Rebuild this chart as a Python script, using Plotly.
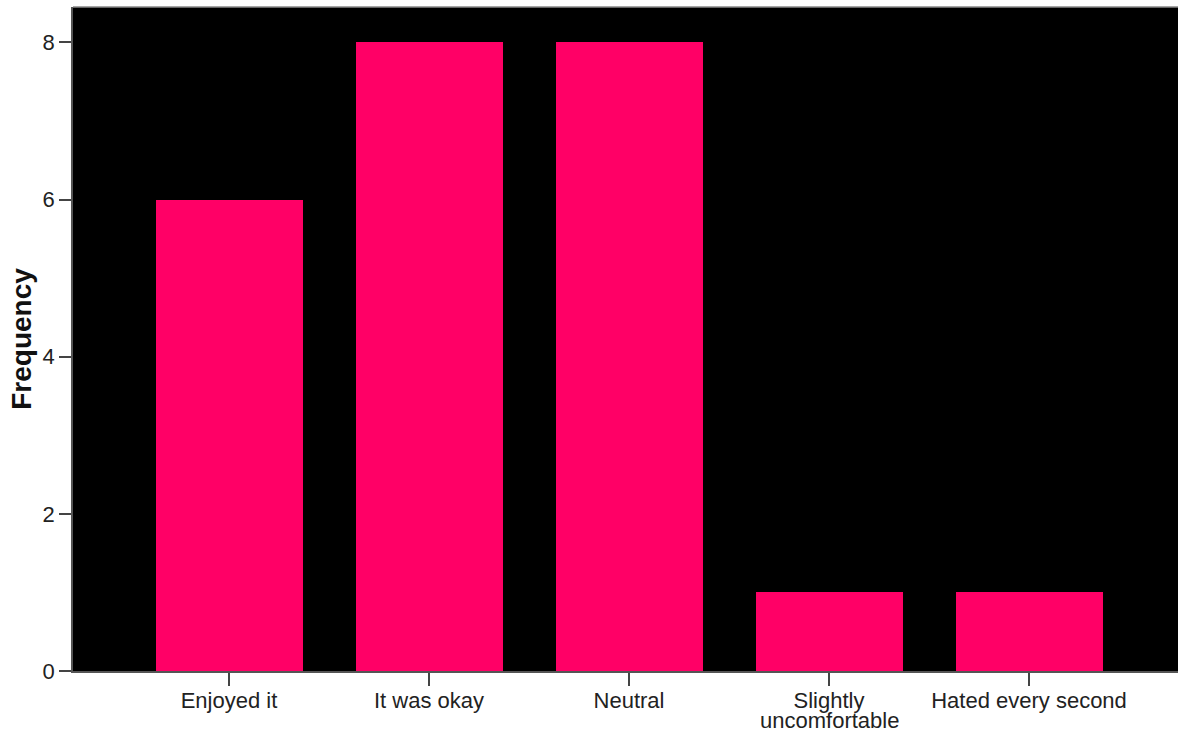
import plotly.graph_objects as go

categories = ["Enjoyed it", "It was okay", "Neutral", "Slightly", "Hated every second"]
category_second_lines = ["", "", "", "uncomfortable", ""]
frequency = [6, 8, 8, 1, 1]
y_ticks = [0, 2, 4, 6, 8]

fig = go.Figure(go.Bar(
    x=list(range(len(categories))),
    y=frequency,
    marker=dict(color="#FF0066", line=dict(width=0)),
    width=0.735,
))

fig.update_layout(
    width=1178, height=732,
    margin=dict(l=73, r=0, t=7, b=61, autoexpand=False),
    paper_bgcolor="white",
    plot_bgcolor="black",
    font=dict(family="Liberation Sans, Arial, sans-serif", size=22, color="#222"),
    showlegend=False,
    bargap=0,
)
fig.update_xaxes(
    range=[-0.78, 4.745],
    tickmode="array",
    tickvals=list(range(len(categories))),
    ticktext=categories,
    ticks="outside", ticklen=13, tickcolor="#444", tickwidth=1.5,
    ticklabelstandoff=-4,
    showline=True, linecolor="#555", linewidth=1.5,
    showgrid=False, zeroline=False, automargin=False,
    tickfont=dict(size=22),
)
fig.update_yaxes(
    range=[0, 8.45],
    tickmode="array", tickvals=y_ticks,
    ticks="outside", ticklen=12, tickcolor="#444", tickwidth=1.5,
    showline=True, linecolor="#555", linewidth=1.5,
    showgrid=False, zeroline=False, automargin=False,
    tickfont=dict(size=22),
    title=dict(text="<b>Frequency</b>", font=dict(size=28, color="#111"), standoff=3),
)
for i, line2 in enumerate(category_second_lines):
    if line2:
        fig.add_annotation(x=i, xref="x", y=0, yref="paper", yanchor="top",
                           yshift=-36, text=line2, showarrow=False, borderpad=0,
                           font=dict(size=22, color="#222"))
fig.add_shape(type="line", xref="paper", yref="paper", x0=0, x1=1, y0=1, y1=1,
              line=dict(color="#888", width=1.5))

fig.write_html(
    "out.html",
    config={"displayModeBar": False},
    post_script="document.body.style.margin='0px';document.body.style.overflow='hidden';",
)
